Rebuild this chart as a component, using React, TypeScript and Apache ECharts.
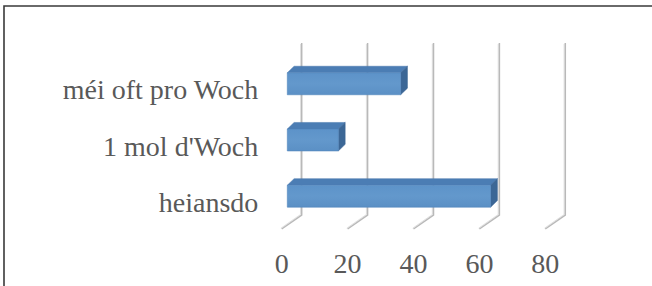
import React, { useEffect, useRef } from "react";
import * as echarts from "echarts";

const CATEGORIES = ["heiansdo", "1 mol d'Woch", "méi oft pro Woch"];
const VALUES = [61.7, 15.5, 34.4];
const TICKS = [0, 20, 40, 60, 80];

const FONT = "'Liberation Serif', 'Times New Roman', serif";
const TEXT_COLOR = "#595959";

export default function App() {
  const ref = useRef<HTMLDivElement>(null);
  useEffect(() => {
    if (!ref.current) return;
    const chart = echarts.init(ref.current, null, { renderer: "svg" });
    const W = 263.6;
    const option: any = {
      animation: false,
      backgroundColor: "#ffffff",
      grid: [
        { left: 301.7, top: 43, width: W, height: 172 },
        { left: 287.3, top: 55.7, width: W, height: 168.6 },
        { left: 281.7, top: 262, width: W, height: 1 },
        { left: 287.3, top: 61.7, width: W, height: 168.6 },
      ],
      xAxis: [
        { gridIndex: 0, type: "value", min: 0, max: 80, interval: 20, show: false },
        { gridIndex: 1, type: "value", min: 0, max: 80, interval: 20, show: false },
        {
          gridIndex: 2, type: "value", min: 0, max: 80, interval: 20,
          axisLine: { show: false }, axisTick: { show: false }, splitLine: { show: false },
          axisLabel: { margin: 0, verticalAlign: "middle", fontFamily: FONT, fontSize: 28, color: TEXT_COLOR },
        },
        { gridIndex: 3, type: "value", min: 0, max: 80, interval: 20, show: false },
      ],
      yAxis: [
        { gridIndex: 0, type: "value", min: 0, max: 1, show: false },
        { gridIndex: 1, type: "category", data: CATEGORIES, show: false },
        { gridIndex: 2, type: "value", min: 0, max: 1, show: false },
        {
          gridIndex: 3, type: "category", data: CATEGORIES,
          axisLine: { show: false }, axisTick: { show: false }, splitLine: { show: false },
          axisLabel: { margin: 29, fontFamily: FONT, fontSize: 28, color: TEXT_COLOR },
        },
      ],
      graphic: [
        {
          type: "polyline",
          shape: { points: [[4, 300], [4, 6], [700, 6]] },
          style: { stroke: "#3a3a3a", lineWidth: 1.6, fill: null },
          silent: true,
        },
      ],
      series: [
        {
          type: "custom",
          xAxisIndex: 0,
          yAxisIndex: 0,
          data: TICKS.map((t) => [t, 0]),
          z: 1,
          renderItem: (params: any, api: any) => {
            const cs = params.coordSys;
            const x = api.coord([api.value(0), 0])[0];
            const top = cs.y;
            const bottom = cs.y + cs.height;
            const pts = [[x, top], [x, bottom], [x - 20, bottom + 14]];
            const ptsL = [[x - 1.2, top + 1], [x - 1.2, bottom - 0.5], [x - 20.8, bottom + 13.2]];
            return {
              type: "group",
              children: [
                { type: "polyline", shape: { points: ptsL }, style: { stroke: "#e2e2e2", lineWidth: 1, fill: null } },
                { type: "polyline", shape: { points: pts }, style: { stroke: "#b9b9b9", lineWidth: 1.5, fill: null } },
              ],
            };
          },
        },
        {
          type: "custom",
          xAxisIndex: 1,
          yAxisIndex: 1,
          data: VALUES.map((v, i) => [v, i]),
          encode: { x: 0, y: 1 },
          z: 2,
          renderItem: (params: any, api: any) => {
            const v = api.value(0);
            const c = api.value(1);
            const p0 = api.coord([0, c]);
            const p1 = api.coord([v, c]);
            const band = api.size([0, 1])[1];
            const h = band * 0.39;
            const x0 = p0[0];
            const x1 = p1[0];
            const yt = p0[1] - h / 2;
            const yb = p0[1] + h / 2;
            const dx = 6.8;
            const dy = -6.6;
            return {
              type: "group",
              children: [
                {
                  type: "polygon",
                  shape: { points: [[x0, yt], [x1, yt], [x1 + dx, yt + dy], [x0 + dx, yt + dy]] },
                  style: { fill: "#4b7db4", stroke: "#4677ad", lineWidth: 0.5 },
                },
                {
                  type: "polygon",
                  shape: { points: [[x1, yt], [x1 + dx, yt + dy], [x1 + dx, yb + dy], [x1, yb]] },
                  style: { fill: "#3c6796", stroke: "#3a6393", lineWidth: 0.5 },
                },
                {
                  type: "rect",
                  shape: { x: x0, y: yt, width: x1 - x0, height: h },
                  style: {
                    fill: new echarts.graphic.LinearGradient(0, 0, 0, 1, [
                      { offset: 0, color: "#5d93c9" },
                      { offset: 0.5, color: "#6398cc" },
                      { offset: 1, color: "#5b90c5" },
                    ]),
                    stroke: "#5286bd",
                    lineWidth: 0.6,
                  },
                },
              ],
            };
          },
        },
      ],
    };
    chart.setOption(option);
    return () => chart.dispose();
  }, []);
  return (
    <div
      ref={ref}
      style={{ position: "fixed", left: 0, top: 0, width: 652, height: 286, background: "#fff" }}
    />
  );
}
